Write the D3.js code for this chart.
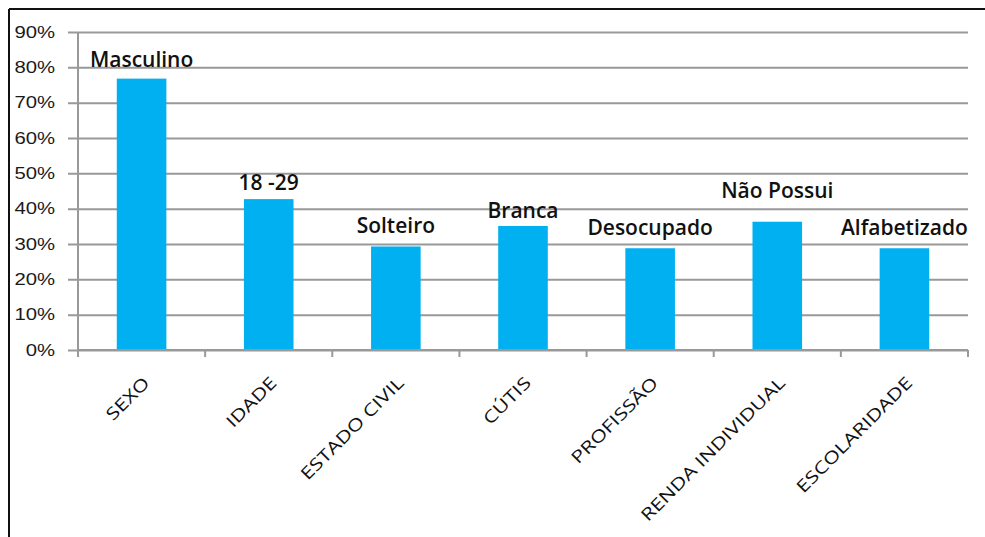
<!DOCTYPE html>
<html>
<head>
<meta charset="utf-8">
<script src="https://cdn.jsdelivr.net/npm/d3@7"></script>
<style>
  body { margin: 0; background: #fff; }
  svg { display: block; font-family: "Open Sans", sans-serif; }
</style>
</head>
<body>
<svg width="985" height="537"></svg>
<script>
// Data
const categories = ["SEXO", "IDADE", "ESTADO CIVIL", "CÚTIS", "PROFISSÃO", "RENDA INDIVIDUAL", "ESCOLARIDADE"];
const values = [76.8, 42.7, 29.3, 35.1, 28.8, 36.3, 28.8];
const barLabels = ["Masculino", "18 -29", "Solteiro", "Branca", "Desocupado", "Não Possui", "Alfabetizado"];
// height (in % units) where each label sits, as in the original
const labelLevels = [80.1, 45.3, 33.0, 37.4, 32.5, 42.9, 32.5];
const yTicks = [0, 10, 20, 30, 40, 50, 60, 70, 80, 90];

const svg = d3.select("svg");
const plot = { left: 78, right: 968, top: 32, bottom: 350 };
const stretch = 1.27;

// frame lines (top and left only)
svg.append("line").attr("x1", 9).attr("x2", 985).attr("y1", 9).attr("y2", 9)
  .attr("stroke", "#111").attr("stroke-width", 2);
svg.append("line").attr("x1", 9).attr("x2", 9).attr("y1", 9).attr("y2", 537)
  .attr("stroke", "#111").attr("stroke-width", 2);

const x = d3.scaleBand().domain(categories).range([plot.left, plot.right])
  .paddingInner(0.61).paddingOuter(0.305);
const y = d3.scaleLinear().domain([0, 90]).range([plot.bottom, plot.top]);

// gridlines + y tick labels
const yAxis = svg.append("g")
  .attr("transform", `translate(${plot.left - 10},0)`)
  .call(d3.axisLeft(y).tickValues(yTicks).tickSize(-(plot.right - plot.left + 10)).tickPadding(13)
    .tickFormat(d => d + "%"));
yAxis.select(".domain").remove();
yAxis.selectAll(".tick line").attr("stroke", "#999").attr("stroke-width", 2);
yAxis.selectAll(".tick text")
  .attr("fill", "#1a1a1a").style("font-size", "16px").style("font-weight", "500")
  .attr("transform", function () {
    const xx = +d3.select(this).attr("x");
    return `translate(${xx},0) scale(${stretch},1) translate(${-xx},0)`;
  });

// y axis line
svg.append("line").attr("x1", plot.left).attr("x2", plot.left).attr("y1", plot.top).attr("y2", plot.bottom)
  .attr("stroke", "#999").attr("stroke-width", 2);

// bars
svg.selectAll("rect.bar").data(categories).enter().append("rect")
  .attr("class", "bar")
  .attr("x", d => x(d))
  .attr("width", x.bandwidth())
  .attr("y", (d, i) => y(values[i]))
  .attr("height", (d, i) => y(0) - y(values[i]))
  .attr("fill", "#00B0F0");

// x axis line and boundary ticks
svg.append("line").attr("x1", plot.left).attr("x2", plot.right).attr("y1", plot.bottom).attr("y2", plot.bottom)
  .attr("stroke", "#999").attr("stroke-width", 2);
const bounds = categories.map(d => x(d) - x.step() * x.paddingInner() / 2);
bounds[0] = plot.left;
bounds.push(plot.right);
svg.selectAll("line.xtick").data(bounds).enter().append("line")
  .attr("class", "xtick")
  .attr("x1", d => d).attr("x2", d => d)
  .attr("y1", plot.bottom).attr("y2", plot.bottom + 7)
  .attr("stroke", "#999").attr("stroke-width", 2);

// x labels, rotated
svg.selectAll("text.xlab").data(categories).enter().append("text")
  .attr("class", "xlab")
  .attr("text-anchor", "end")
  .attr("fill", "#111")
  .style("font-size", "17px")
  .style("font-weight", "500")
  .attr("transform", d => `translate(${x(d) + x.bandwidth() / 2 + 9},384) rotate(-45) scale(${stretch},1)`)
  .text(d => d);

// bar labels
svg.selectAll("text.blab").data(barLabels).enter().append("text")
  .attr("class", "blab")
  .attr("text-anchor", "middle")
  .attr("fill", "#111")
  .style("font-size", "21px")
  .style("font-weight", "600")
  .attr("x", (d, i) => x(categories[i]) + x.bandwidth() / 2)
  .attr("y", (d, i) => y(labelLevels[i]))
  .text(d => d);
</script>
</body>
</html>
